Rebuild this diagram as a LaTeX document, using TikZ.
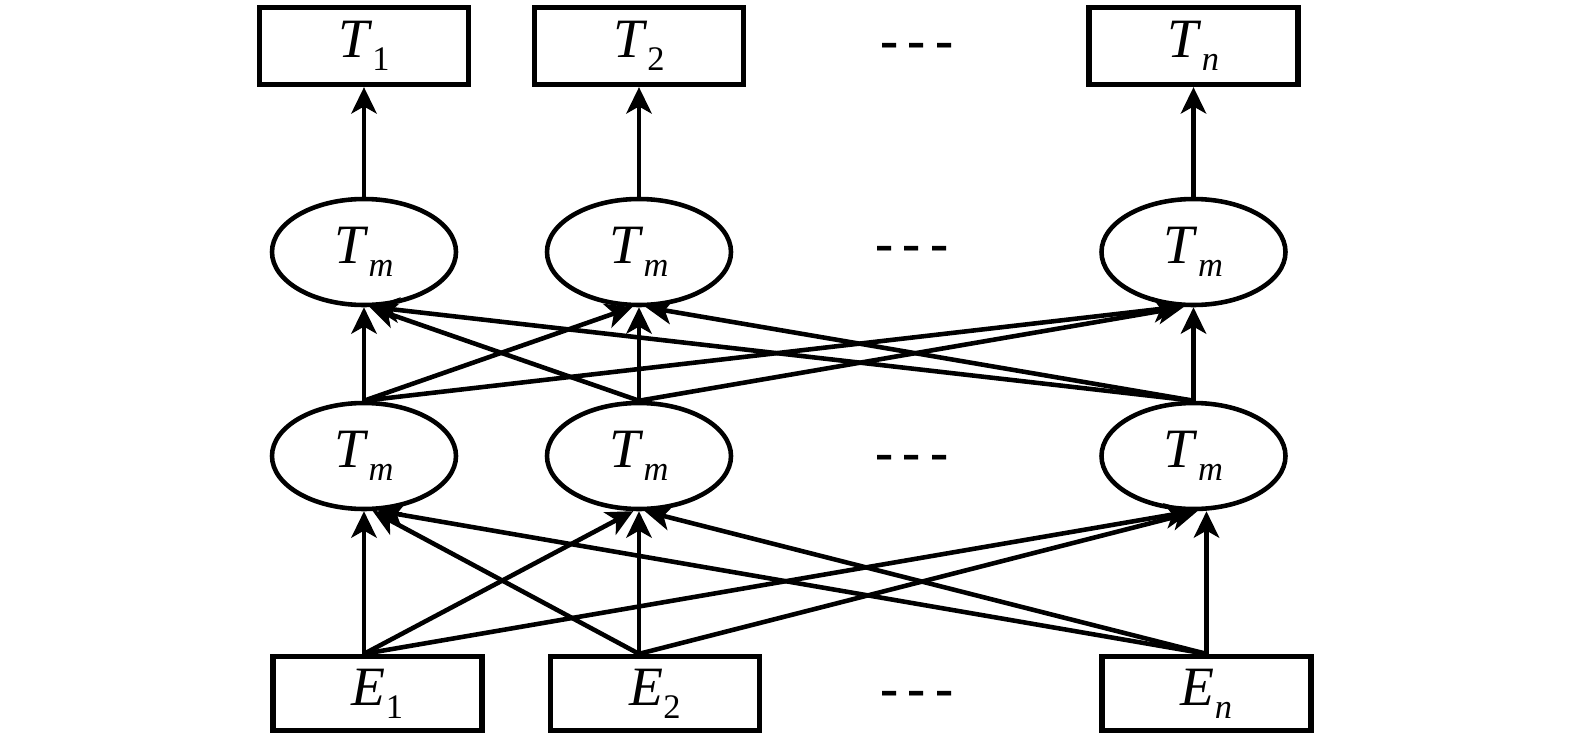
\documentclass[tikz,border=0pt]{standalone}
\usepackage{fontspec}
\setmainfont{Liberation Serif}
\usepackage{tikz}
\usetikzlibrary{positioning,shapes.geometric,arrows.meta}

\newcommand{\sublab}[2]{\textit{#1}\raisebox{-3.8pt}{\fontsize{9.8}{11}\selectfont #2}}

\begin{document}
\begin{tikzpicture}[->, >={Stealth[length=7.5pt,width=7.2pt,inset=2pt]}, line width=1.3pt,
    tbox/.style={draw, -, line width=1.5pt, rectangle, minimum width=2.09cm, minimum height=0.77cm, inner sep=0pt, font=\fontsize{15.8}{18}\selectfont},
    ebox/.style={tbox, minimum height=0.74cm},
    tmell/.style={draw, -, ellipse, minimum width=1.84cm, minimum height=1.06cm, inner sep=0pt, font=\fontsize{15.8}{18}\selectfont},
    dots/.style={inner sep=0pt, font=\fontsize{15.5}{18}\selectfont\bfseries}]
  \useasboundingbox (0,0) rectangle (15.75,7.38);

  % output row
  \node[tbox] (t1) at (3.64,6.92) {\sublab{T}{1}};
  \node[tbox] (t2) [right of=t1, node distance=2.75cm] {\sublab{T}{2}};
  \node[tbox] (tn) [right of=t2, node distance=5.545cm] {\sublab{T}{\textit{n}}};

  % two hidden rows
  \node[tmell] (u1) [below of=t1, node distance=2.06cm] {\sublab{T}{\textit{m}}};
  \node[tmell] (u2) [below of=t2, node distance=2.06cm] {\sublab{T}{\textit{m}}};
  \node[tmell] (un) [below of=tn, node distance=2.06cm] {\sublab{T}{\textit{m}}};
  \node[tmell] (l1) [below of=u1, node distance=2.04cm] {\sublab{T}{\textit{m}}};
  \node[tmell] (l2) [below of=u2, node distance=2.04cm] {\sublab{T}{\textit{m}}};
  \node[tmell] (ln) [below of=un, node distance=2.04cm] {\sublab{T}{\textit{m}}};

  % input row
  \node[ebox] (e1) at (3.775,0.445) {\sublab{E}{1}};
  \node[ebox] (e2) [right of=e1, node distance=2.775cm] {\sublab{E}{2}};
  \node[ebox] (en) [right of=e2, node distance=5.515cm] {\sublab{E}{\textit{n}}};

  % ellipsis marks
  \node[dots] (d1) at (9.17,6.87) {-\kern2.6pt-\kern2.6pt-};
  \node[dots] (d2) at (9.12,4.84) {-\kern2.6pt-\kern2.6pt-};
  \node[dots] (d3) at (9.12,2.75) {-\kern2.6pt-\kern2.6pt-};
  \node[dots] (d4) at (9.17,0.39) {-\kern2.6pt-\kern2.6pt-};

  \coordinate (b1) at (e1.north -| l1);
  \coordinate (b2) at (e2.north -| l2);
  \coordinate (bn) at (en.north);

  \path (b1) edge (l1.south)
             edge (l2.-96)
             edge (ln.-92)
        (b2) edge (l2.south)
             edge (l1.-81)
             edge (ln.-86)
        (bn) edge (bn |- ln.south)
             edge (l1.-76)
             edge (l2.-84);

  \path (l1.north) edge (u1.south)
                   edge (u2.-97)
                   edge (un.-104)
        (l2.north) edge (u2.south)
                   edge (u1.-84)
                   edge (un.-100)
        (ln.north) edge (un.south)
                   edge (u1.-81)
                   edge (u2.-83);

  \path (u1) edge (t1)
        (u2) edge (t2)
        (un) edge (tn);
\end{tikzpicture}
\end{document}
